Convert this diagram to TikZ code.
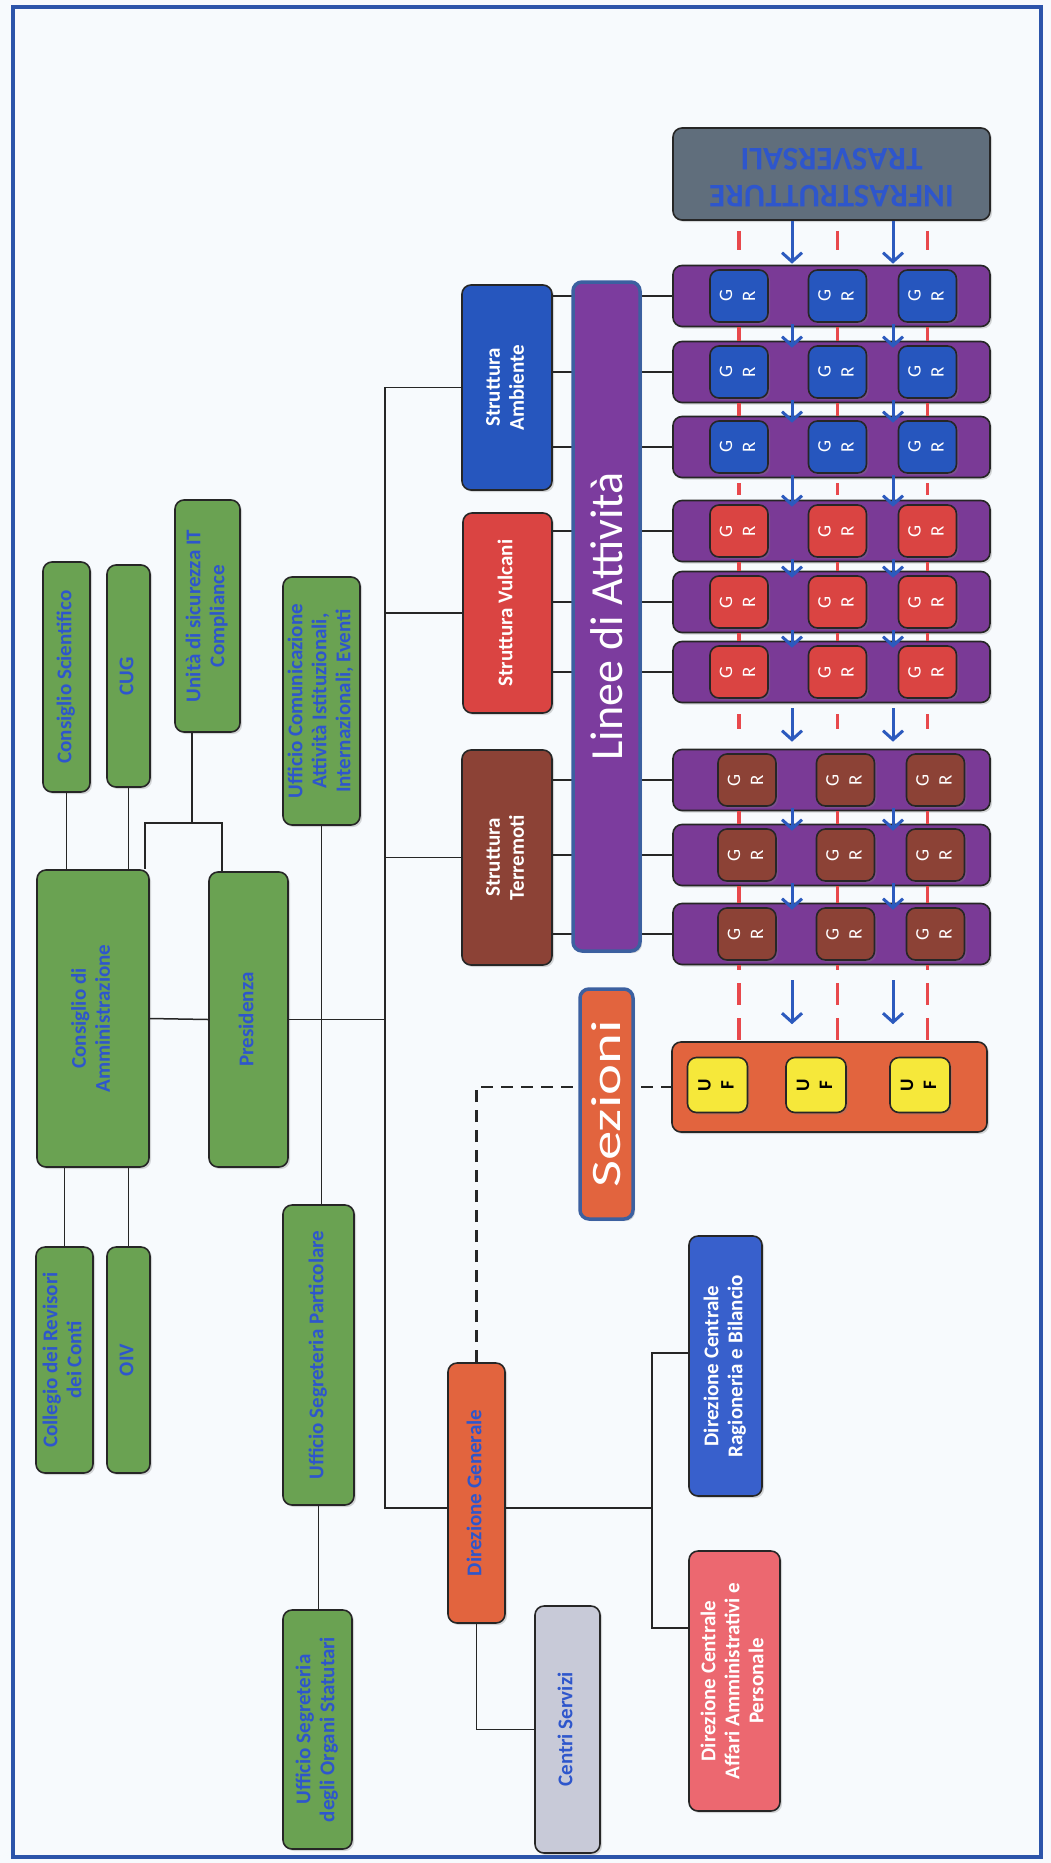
\documentclass[tikz,border=0pt]{standalone}
\usepackage{fontspec}
\setmainfont{Carlito}
\usepackage{xcolor}
\usepackage{graphicx}
\usepackage{tikz}
\usetikzlibrary{positioning, arrows.meta, shadows, calc}
\definecolor{frameblue}{RGB}{44,84,170}
\definecolor{paper}{RGB}{247,250,253}
\definecolor{boxgreen}{RGB}{106,162,82}
\definecolor{txtblue}{RGB}{46,86,204}
\definecolor{ambblue}{RGB}{38,86,190}
\definecolor{vulred}{RGB}{218,68,66}
\definecolor{terbrown}{RGB}{140,66,54}
\definecolor{rowpurple}{RGB}{122,58,150}
\definecolor{barpurple}{RGB}{124,60,158}
\definecolor{barrim}{RGB}{60,96,160}
\definecolor{infragrey}{RGB}{96,110,124}
\definecolor{dgorange}{RGB}{226,100,62}
\definecolor{ufyellow}{RGB}{246,232,58}
\definecolor{servgrey}{RGB}{200,202,216}
\definecolor{dcrblue}{RGB}{56,96,204}
\definecolor{dcapink}{RGB}{236,104,112}
\definecolor{dashred}{RGB}{232,72,76}
\definecolor{arrblue}{RGB}{44,90,190}
\newcommand{\vtext}[1]{\rotatebox{90}{\begin{tabular}{@{}c@{}}#1\end{tabular}}}
\tikzstyle{orgbox}=[%
      rectangle, rounded corners=9pt, draw=black!85, line width=1.6pt, inner sep=0pt,
      drop shadow={opacity=0.3, shadow xshift=2pt, shadow yshift=-2pt}
]
\tikzstyle{gb}=[%
      orgbox, fill=boxgreen, text=txtblue, font=\bfseries\fontsize{21}{24}\selectfont
]
\tikzstyle{wb}=[%
      orgbox, text=white, font=\bfseries\fontsize{21}{24}\selectfont
]
\tikzstyle{row}=[%
      orgbox, fill=rowpurple, minimum width=317pt, minimum height=61pt
]
\tikzstyle{gr}=[%
      orgbox, minimum width=58pt, minimum height=52pt, text=white, font=\fontsize{19}{23}\selectfont
]
\tikzstyle{uf}=[%
      orgbox, fill=ufyellow, minimum width=60pt, minimum height=55pt, font=\bfseries\fontsize{19}{23}\selectfont
]
\tikzstyle{conn}=[draw=black!85, line width=1.5pt]
\tikzstyle{reddash}=[draw=dashred, line width=3.5pt]
\tikzstyle{barr}=[draw=arrblue, line width=3pt, -{Straight Barb[length=9pt,width=20pt]}]
\begin{document}
\begin{tikzpicture}[x=1pt, y=-1pt]
    \useasboundingbox (0,0) rectangle (1051,1863);
    \fill[paper] (0,0) rectangle (1051,1863);
    \draw[frameblue, line width=4pt] (13,7) rectangle (1041,1857);

    \node[gb, minimum width=47pt, minimum height=230pt]  (cs)   at (66.5,677)   {\vtext{Consiglio Scientifico}};
    \node[gb, minimum width=43pt, minimum height=222pt]  (cug)  at (128.5,676)  {\vtext{CUG}};
    \node[gb, minimum width=65pt, minimum height=232pt]  (usit) at (207.5,616)  {\vtext{Unità di sicurezza IT\\Compliance}};
    \node[gb, minimum width=77pt, minimum height=248pt]  (ucom) at (321.5,701)  {\vtext{Ufficio Comunicazione\\Attività Istituzionali,\\Internazionali, Eventi}};
    \node[gb, minimum width=112pt, minimum height=297pt] (cda)  at (93,1018.5)  {\vtext{Consiglio di\\Amministrazione}};
    \node[gb, minimum width=79pt, minimum height=295pt]  (pres) at (248.5,1019.5) {\vtext{Presidenza}};
    \node[gb, minimum width=57pt, minimum height=226pt]  (crc)  at (64.5,1360)  {\vtext{Collegio dei Revisori\\dei Conti}};
    \node[gb, minimum width=43pt, minimum height=226pt]  (oiv)  at (128.5,1360) {\vtext{OIV}};
    \node[gb, minimum width=71pt, minimum height=300pt]  (usp)  at (318.5,1355) {\vtext{Ufficio Segreteria Particolare}};
    \node[gb, minimum width=69pt, minimum height=239pt]  (usos) at (317.5,1729.5) {\vtext{Ufficio Segreteria\\degli Organi Statutari}};

    \node[gb, fill=dgorange, minimum width=57pt, minimum height=260pt] (dg)    at (476.5,1493) {\vtext{Direzione Generale}};
    \node[gb, fill=servgrey, minimum width=65pt, minimum height=247pt] (cserv) at (567.5,1729.5) {\vtext{Centri Servizi}};
    \node[wb, fill=dcrblue, minimum width=73pt, minimum height=260pt]  (dcrb)  at (725.5,1366) {\vtext{Direzione Centrale\\Ragioneria e Bilancio}};
    \node[wb, fill=dcapink, minimum width=91pt, minimum height=260pt]  (dcaap) at (734.5,1681) {\vtext{Direzione Centrale\\Affari Amministrativi e\\Personale}};

    \node[wb, fill=ambblue, minimum width=90pt, minimum height=205pt]  (samb) at (507,387.5) {\vtext{Struttura\\Ambiente}};
    \node[wb, fill=vulred, minimum width=89pt, minimum height=200pt]   (svul) at (507.5,613) {\vtext{Struttura Vulcani}};
    \node[wb, fill=terbrown, minimum width=90pt, minimum height=215pt] (ster) at (507,857.5) {\vtext{Struttura\\Terremoti}};

    \node[orgbox, fill=infragrey, minimum width=317pt, minimum height=92pt, text=txtblue,
          font=\bfseries\fontsize{33}{37}\selectfont] (infra) at (831.5,174)
          {\rotatebox{180}{\begin{tabular}{@{}c@{}}INFRASTRUTTURE\\TRASVERSALI\end{tabular}}};
    \node[orgbox, fill=dgorange, minimum width=315pt, minimum height=90pt] (sezbox) at (829.5,1087) {};

    \foreach \r/\y in {1/296,2/372,3/447,4/531,5/602,6/672,7/780,8/855,9/934}
        \node[row] (r\r) at (831.5,\y) {};

    \foreach \c [count=\i] in {739,837.5,927.5}
        \coordinate (col\i) at (\c,0);
    \coordinate (ac1) at (792,0);
    \coordinate (ac2) at (893,0);

    \foreach \r/\f/\dx in {1/ambblue/0,2/ambblue/0,3/ambblue/0,4/vulred/0,5/vulred/0,6/vulred/0,7/terbrown/8,8/terbrown/8,9/terbrown/8}
        \foreach \i in {1,2,3}
            \node[gr, fill=\f, xshift=\dx pt] (gr\r\i) at (col\i |- r\r) {\vtext{G\\R}};

    \foreach \c [count=\i] in {717.5,816,920}
        \node[uf] (uf\i) at (\c,1085) {\vtext{U\\F}};

    \draw[conn] (cs.south) -- (cs.south |- cda.north);
    \draw[conn] (cug.south) -- (cug.south |- cda.north);
    \draw[conn] (crc.north) -- (crc.north |- cda.south);
    \draw[conn] (oiv.north) -- (oiv.north |- cda.south);
    \draw[conn] (cda.east) -- (pres.west);
    \coordinate (uj) at (192,823);
    \coordinate (ujl) at (145,823);
    \coordinate (ujr) at (222,823);
    \draw[conn] (usit.south -| uj) -- (uj);
    \draw[conn] (ujl |- cda.north) -- (ujl) -- (ujr) -- (ujr |- pres.north);
    \draw[conn] (ucom.south) -- (ucom.south |- usp.north);
    \draw[conn] (usp.south) -- (usp.south |- usos.north);

    \coordinate (tbot) at (385,1508);
    \draw[conn] (samb.west) -| (tbot) -- (tbot -| dg.west);
    \draw[conn] (svul.west) -- (svul.west -| tbot);
    \draw[conn] (ster.west) -- (ster.west -| tbot);
    \draw[conn] (pres.east) -- (pres.east -| tbot);

    \coordinate (dcr) at (652,1353);
    \coordinate (dca) at (652,1628);
    \draw[conn] (dg.east |- tbot) -- (tbot -| dcr);
    \draw[conn] (dcr -| dcrb.west) -- (dcr) -- (dca) -- (dca -| dcaap.west);
    \draw[conn] (dg.south) |- (cserv.west);
    \draw[conn, dash pattern=on 12pt off 8pt, line width=2.5pt] (dg.north) |- (sezbox.west);

    \foreach \r/\s in {1/samb,2/samb,3/samb,4/svul,5/svul,6/svul,7/ster,8/ster,9/ster}
        \draw[conn] (r\r.west -| \s.east) -- (r\r.west);

    \node[orgbox, fill=barpurple, draw=barrim, line width=3.5pt, minimum width=67pt, minimum height=669pt,
          text=white, font=\fontsize{46}{50}\selectfont] (linee) at (606.5,616.5) {\rotatebox{90}{Linee di Attività}};
    \node[orgbox, fill=dgorange, draw=barrim, line width=3.5pt, minimum width=53pt, minimum height=230pt,
          text=white, font=\fontsize{42}{46}\selectfont] (sez) at (606.5,1104) {\rotatebox{90}{\scalebox{1.4}[1]{Sezioni}}};

    \foreach \a/\b in {r1/r2,r2/r3,r4/r5,r5/r6,r7/r8,r8/r9}
        \foreach \i in {1,2,3}
            \draw[reddash] (col\i |- \a.south) -- (col\i |- \b.north);
    \foreach \i in {1,2,3} {
        \draw[reddash, shorten <=10pt, shorten >=15pt] (col\i |- infra.south) -- (col\i |- r1.north);
        \draw[reddash, shorten <=5pt, shorten >=5pt] (col\i |- r3.south) -- (col\i |- r4.north);
        \draw[reddash, shorten <=11pt, shorten >=20pt] (col\i |- r6.south) -- (col\i |- r7.north);
        \draw[reddash, dash pattern=on 22pt off 13pt, dash phase=17pt] (col\i |- r9.south) -- (col\i |- sezbox.north);
    }

    \foreach \a/\b in {r1/r2,r2/r3,r3/r4,r4/r5,r5/r6,r7/r8,r8/r9}
        \foreach \i in {1,2}
            \draw[barr, shorten <=-3pt, shorten >=-7pt] (ac\i |- \a.south) -- (ac\i |- \b.north);
    \foreach \i in {1,2} {
        \draw[barr, shorten >=1pt] (ac\i |- infra.south) -- (ac\i |- r1.north);
        \draw[barr, shorten <=5pt, shorten >=7pt] (ac\i |- r6.south) -- (ac\i |- r7.north);
        \draw[barr, shorten <=15pt, shorten >=17pt] (ac\i |- r9.south) -- (ac\i |- sezbox.north);
    }
\end{tikzpicture}
\end{document}
